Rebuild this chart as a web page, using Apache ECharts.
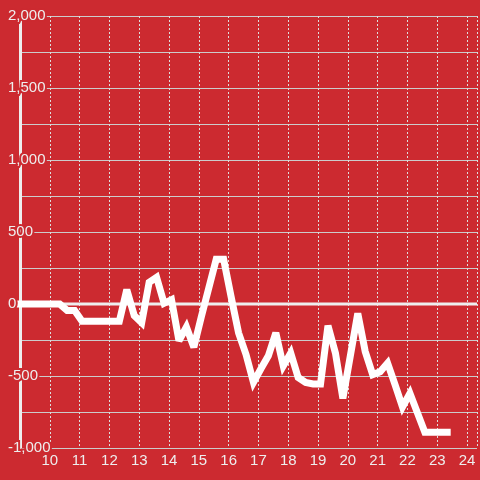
<!DOCTYPE html>
<html>
<head>
<meta charset="utf-8">
<script src="https://cdn.jsdelivr.net/npm/echarts@6/dist/echarts.min.js"></script>
<style>
html,body{margin:0;padding:0;background:#cc2a30;}
#chart{width:480px;height:480px;}
</style>
</head>
<body>
<div id="chart"></div>
<script>
// Hours of day (x) and values (y)
var hours = [9.0, 10.083, 10.333, 10.583, 10.833, 11.083, 11.333, 11.583, 11.833, 12.083, 12.333,
  12.583, 12.833, 13.083, 13.333, 13.583, 13.833, 14.083, 14.333, 14.583, 14.833,
  15.083, 15.333, 15.583, 15.833, 16.083, 16.333, 16.583, 16.833, 17.083, 17.333,
  17.583, 17.833, 18.083, 18.333, 18.583, 18.833, 19.083, 19.333, 19.583, 19.833,
  20.083, 20.333, 20.583, 20.833, 21.083, 21.333, 21.583, 21.833, 22.083, 22.333,
  22.583, 22.833, 23.083, 23.333];
var values = [0, 0, 0, -45, -45, -120, -120, -120, -120, -120, -120,
  100, -80, -130, 150, 185, 5, 30, -255, -160, -300,
  -90, 110, 310, 310, 50, -200, -350, -545, -450, -360,
  -200, -430, -340, -510, -545, -555, -555, -150, -340, -655,
  -360, -65, -330, -490, -470, -410, -560, -715, -620, -755,
  -890, -890, -890, -890];
var xMin = 9, xMax = 24.333, xStep = 1;
var xTickLabels = [10, 11, 12, 13, 14, 15, 16, 17, 18, 19, 20, 21, 22, 23, 24];
var yMin = -1000, yMax = 2000, yStep = 250, yLabelStep = 500;

var bg = '#cc2a30';
var textCol = '#eeeeee';
var fontFam = '"Liberation Sans", Arial, sans-serif';

var seriesData = hours.map(function (h, i) { return [h, values[i]]; });

var chart = echarts.init(document.getElementById('chart'), null, {renderer: 'canvas'});
chart.setOption({
  backgroundColor: bg,
  animation: false,
  grid: {left: 20, top: 16, bottom: 32, right: 0, containLabel: false},
  xAxis: {
    type: 'value', min: xMin, max: xMax, interval: xStep,
    axisLine: {show: false},
    axisTick: {show: false},
    axisLabel: {
      margin: 5,
      color: textCol, fontSize: 15, fontFamily: fontFam,
      formatter: function (v) {
        return xTickLabels.indexOf(v) >= 0 ? String(v) : '';
      }
    },
    splitLine: {show: true, lineStyle: {color: '#dddddd', width: 1, type: [2, 2]}}
  },
  yAxis: [{
    type: 'value', min: yMin, max: yMax, interval: yStep, position: 'left', z: 0,
    axisLine: {show: true, onZero: false, lineStyle: {color: '#eeeeee', width: 3}},
    axisTick: {show: false},
    axisLabel: {show: false},
    splitLine: {show: true, lineStyle: {color: '#cccccc', width: 1}}
  }, {
    type: 'value', min: yMin, max: yMax, interval: yStep, position: 'left', offset: 0, z: 10,
    axisLine: {show: false},
    axisTick: {show: false},
    splitLine: {show: false},
    axisLabel: {
      show: true, align: 'left', margin: 12,
      color: textCol, fontSize: 15, fontFamily: fontFam,
      textBorderColor: bg, textBorderWidth: 4,
      formatter: function (v) {
        return (v % yLabelStep === 0) ? v.toLocaleString('en-US') : '';
      }
    }
  }],
  series: [{
    type: 'line',
    yAxisIndex: 0,
    z: 1,
    silent: true,
    symbol: 'none',
    data: [[xMin, 0], [xMax, 0]],
    lineStyle: {color: '#eeeeee', width: 3}
  }, {
    type: 'line',
    yAxisIndex: 0,
    z: 3,
    clip: false,
    symbol: 'none',
    data: seriesData,
    lineStyle: {color: '#ffffff', width: 7, cap: 'square', join: 'miter', miterLimit: 3}
  }]
});
</script>
</body>
</html>
